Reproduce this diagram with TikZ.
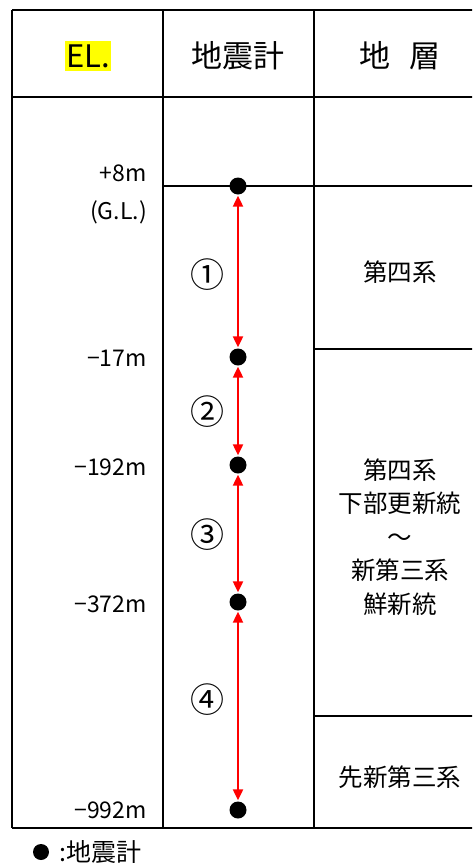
\documentclass[tikz,border=0pt]{standalone}
\usepackage{fontspec}
\setmainfont{Noto Sans CJK JP}
\usetikzlibrary{arrows.meta, positioning}
\definecolor{myred}{RGB}{255,0,0}
\definecolor{myyellow}{RGB}{255,255,0}
\tikzset{
    grid/.style={line width=2.6pt, black},
    sensor/.style={circle, fill=black, inner sep=0pt, minimum size=17pt},
    span/.style={{Triangle[length=11pt,width=10pt]}-{Triangle[length=11pt,width=10pt]}, line width=2.2pt, myred, shorten >=1pt, shorten <=1pt},
    elev/.style={anchor=east, font=\fontsize{23}{38}\selectfont, align=right, inner sep=0pt},
    head/.style={font=\fontsize{31}{34}\selectfont},
    layer/.style={font=\fontsize{24.5}{33.5}\selectfont, align=center},
    seg/.style={font=\fontsize{34}{36}\selectfont}
}
\begin{document}
\begin{tikzpicture}[x=1pt, y=-1pt]
    \useasboundingbox (0,0) rectangle (472,865);
    \clip (0,0) rectangle (472,865);

    % Table frame
    \draw[grid] (12,10) -- (500,10);
    \draw[grid] (12,97) -- (500,97);
    \draw[grid] (12,828) -- (500,828);
    \foreach \x in {12,163,314} {
        \draw[grid] (\x,10) -- (\x,828);
    }
    \draw[grid] (163,186) -- (500,186);
    \draw[grid] (314,349) -- (500,349);
    \draw[grid] (314,716) -- (500,716);

    % Header
    \node[head, fill=myyellow, inner xsep=1pt, inner ysep=3pt] (hel) at (88,56) {EL.};
    \node[head] (hseis) at (238,56) {地震計};
    \node[head] (hlayer) at (400,56) {地\hspace{0.6em}層};

    % Elevations
    \node[elev] (e1) at (147,194) {+8m\\(G.L.)};
    \node[elev] (e2) at (147,358) {−17m};
    \node[elev] (e3) at (147,467) {−192m};
    \node[elev] (e4) at (147,604) {−372m};
    \node[elev] (e5) at (147,810) {−992m};

    % Seismometers
    \node[sensor] (s1) at (238,186) {};
    \node[sensor] (s2) at (238,357) {};
    \node[sensor] (s3) at (238,465) {};
    \node[sensor] (s4) at (238,602) {};
    \node[sensor] (s5) at (238,810) {};

    % Spans
    \foreach \a/\b in {s1/s2, s2/s3, s3/s4, s4/s5} {
        \draw[span] (\a) -- (\b);
    }
    \node[seg] (n1) at (207,275) {①};
    \node[seg] (n2) at (207,412) {②};
    \node[seg] (n3) at (207,535) {③};
    \node[seg] (n4) at (207,700) {④};

    % Layers
    \node[layer] (l1) at (400,272) {第四系};
    \node[layer] (l2) at (400,537) {第四系\\下部更新統\\～\\新第三系\\鮮新統};
    \node[layer] (l3) at (400,777) {先新第三系};

    % Legend
    \node[sensor, minimum size=16pt] (leg) at (41,852) {};
    \node[anchor=west, font=\fontsize{25}{28}\selectfont, inner sep=0pt] (legtext) at ([xshift=10pt]leg.east) {:地震計};
\end{tikzpicture}
\end{document}
